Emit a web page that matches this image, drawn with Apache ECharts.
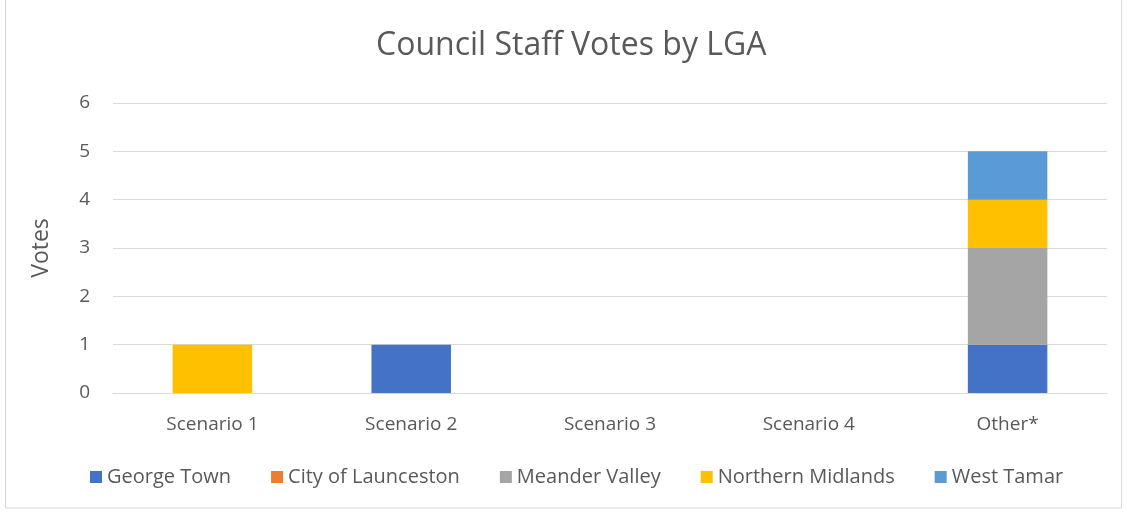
<!DOCTYPE html>
<html>
<head>
<meta charset="utf-8">
<script src="https://cdn.jsdelivr.net/npm/echarts@6/dist/echarts.min.js"></script>
<style>
  html, body { margin: 0; padding: 0; background: #fff; }
  #chart { width: 1127px; height: 512px; }
</style>
</head>
<body>
<div id="chart"></div>
<script>
// data
const categories = ['Scenario 1', 'Scenario 2', 'Scenario 3', 'Scenario 4', 'Other*'];
const georgeTown = [0, 1, 0, 0, 1];
const cityOfLaunceston = [0, 0, 0, 0, 0];
const meanderValley = [0, 0, 0, 0, 2];
const northernMidlands = [1, 0, 0, 0, 1];
const westTamar = [0, 0, 0, 0, 1];
const yTicks = [0, 1, 2, 3, 4, 5, 6];

const font = 'Open Sans, sans-serif';
const textColor = '#595959';

const chart = echarts.init(document.getElementById('chart'));

function bar(name, data, color) {
  return {
    name: name,
    type: 'bar',
    stack: 'votes',
    data: data,
    barWidth: '40%',
    itemStyle: { color: color },
    emphasis: { disabled: true }
  };
}

chart.setOption({
  animation: false,
  textStyle: { fontFamily: font },
  graphic: [{
    type: 'rect',
    shape: { x: 5.5, y: -2, width: 1116, height: 510 },
    style: { fill: 'none', stroke: '#d9d9d9', lineWidth: 1 },
    silent: true
  }],
  title: {
    text: 'Council Staff Votes by LGA',
    left: 371,
    top: 25,
    textStyle: { fontFamily: font, fontSize: 32, fontWeight: 'normal', color: textColor }
  },
  legend: {
    bottom: 20,
    left: 85,
    icon: 'rect',
    itemWidth: 12,
    itemHeight: 12,
    itemGap: 40,
    textStyle: { fontFamily: font, fontSize: 20, color: textColor },
    data: ['George Town', 'City of Launceston', 'Meander Valley', 'Northern Midlands', 'West Tamar']
  },
  grid: { left: 113, right: 20, top: 103, bottom: 119 },
  xAxis: {
    type: 'category',
    data: categories,
    axisLine: { lineStyle: { color: '#d9d9d9' } },
    axisTick: { show: false },
    axisLabel: { fontFamily: font, fontSize: 19, color: textColor, margin: 22 }
  },
  yAxis: {
    type: 'value',
    min: yTicks[0],
    max: yTicks[yTicks.length - 1],
    interval: 1,
    name: 'Votes',
    nameLocation: 'middle',
    nameGap: 60,
    nameTextStyle: { fontFamily: font, fontSize: 23, color: textColor },
    axisLine: { show: false },
    axisTick: { show: false },
    axisLabel: { fontFamily: font, fontSize: 19, color: textColor, margin: 23 },
    splitLine: { lineStyle: { color: '#d9d9d9', width: 1 } }
  },
  series: [
    bar('George Town', georgeTown, '#4472C4'),
    bar('City of Launceston', cityOfLaunceston, '#ED7D31'),
    bar('Meander Valley', meanderValley, '#A5A5A5'),
    bar('Northern Midlands', northernMidlands, '#FFC000'),
    bar('West Tamar', westTamar, '#5B9BD5')
  ]
});
</script>
</body>
</html>
